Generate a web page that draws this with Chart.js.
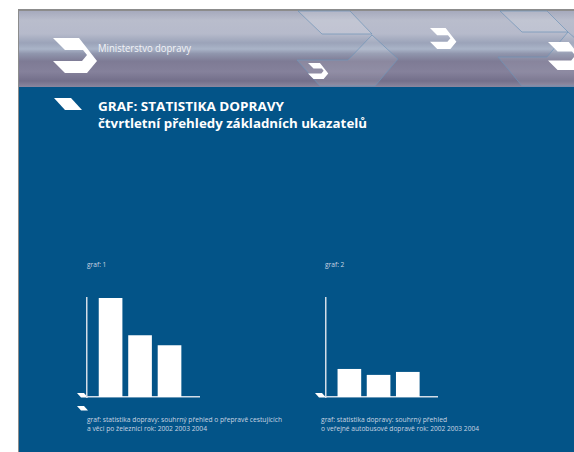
<!DOCTYPE html>
<html lang="cs">
<head>
<meta charset="utf-8">
<script src="https://cdn.jsdelivr.net/npm/chart.js@4.4.1/dist/chart.umd.min.js"></script>
<style>
  html, body { margin: 0; padding: 0; background: #ffffff; }
  #page { position: relative; width: 574px; height: 452px; overflow: hidden; background: #ffffff; }
  #panel {
    position: absolute; left: 18px; top: 9px; width: 556px; height: 443px;
    background: #035488; border-left: 1px solid #8c8c8c; border-top: 2px solid #8c8c8c;
    box-sizing: border-box;
  }
  #header {
    position: absolute; left: 19px; top: 11px; width: 555px; height: 76px;
    background: linear-gradient(to bottom,
      #a6aabd 0%, #b9bdcc 12%, #b6bacb 30%, #9ba3b9 42%, #aab4c8 50%,
      #9096ad 56%, #7e7b95 66%, #85819b 80%, #736f8a 92%, #8a879f 100%);
  }
  svg { position: absolute; left: 0; top: 0; }
  canvas { position: absolute; }
  #c1 { left: 82px; top: 293px; }
  #c2 { left: 321px; top: 293px; }
</style>
</head>
<body>
<div id="page">
  <div id="panel"></div>
  <div id="header"></div>
  <svg width="574" height="452" id="deco">
    <!-- header shapes -->
    <g stroke="#6f93b8" stroke-width="0.7">
      <polygon points="298,11 350,11 372,34 322,34" fill="rgba(255,255,255,0.14)"/>
      <polygon points="297,60 348,60 372,35 398,59 375,86 320,86" fill="rgba(255,255,255,0.10)"/>
      <polygon points="500,11 547,11 568,32 522,32" fill="rgba(255,255,255,0.12)"/>
      <polygon points="498,57 547,57 568,32 596,57 574,86 522,86" fill="rgba(255,255,255,0.08)"/>
    </g>
    <g fill="#ffffff" id="logos"></g>
    <!-- title marker -->
    <polygon points="54,98 71,98 82,110 65,110" fill="#ffffff"/>
    <!-- axis corner markers -->
    <polygon points="77,393 84,393 88,397.5 81,397.5" fill="#ffffff"/>
    <polygon points="77,406 84,406 88,410.5 81,410.5" fill="#ffffff"/>
    <polygon points="315,393 322,393 326,397.5 319,397.5" fill="#ffffff"/>
    <g font-family="'Open Sans', 'DejaVu Sans', sans-serif">
      <text x="98" y="52" font-size="10" fill="#f2f3f7" textLength="93" lengthAdjust="spacingAndGlyphs">Ministerstvo dopravy</text>
      <text x="98" y="111" font-size="12" font-weight="bold" fill="#ffffff" textLength="186" lengthAdjust="spacingAndGlyphs">GRAF: STATISTIKA DOPRAVY</text>
      <text x="98" y="127.5" font-size="12" font-weight="bold" fill="#ffffff" textLength="269" lengthAdjust="spacingAndGlyphs">čtvrtletní přehledy základních ukazatelů</text>
      <g font-size="6.6" fill="#c9d5e2">
        <text x="87" y="267" id="t1"></text>
        <text x="325" y="267" id="t2"></text>
        <text x="87" y="422" textLength="195" lengthAdjust="spacingAndGlyphs" id="cap1a"></text>
        <text x="87" y="431" textLength="120" lengthAdjust="spacingAndGlyphs" id="cap1b"></text>
        <text x="321" y="422" textLength="126" lengthAdjust="spacingAndGlyphs" id="cap2a"></text>
        <text x="321" y="431" textLength="158" lengthAdjust="spacingAndGlyphs" id="cap2b"></text>
      </g>
    </g>
  </svg>
  <canvas id="c1" width="122" height="109"></canvas>
  <canvas id="c2" width="121" height="109"></canvas>
</div>
<script>
  // data
  var roky = [2002, 2003, 2004];
  var zeleznice = [100, 62, 52];   // graf 1, relativni hodnoty
  var autobusy = [28, 22, 25];     // graf 2, relativni hodnoty
  var nadpisy = ['graf: 1', 'graf: 2'];
  var popisky1 = ['graf: statistika dopravy: souhrný přehled o přepravě cestujících', 'a věci po železnici rok: 2002 2003 2004'];
  var popisky2 = ['graf: statistika dopravy: souhrný přehled', 'o veřejné autobusové dopravě rok: 2002 2003 2004'];

  document.getElementById('t1').textContent = nadpisy[0];
  document.getElementById('t2').textContent = nadpisy[1];
  document.getElementById('cap1a').textContent = popisky1[0];
  document.getElementById('cap1b').textContent = popisky1[1];
  document.getElementById('cap2a').textContent = popisky2[0];
  document.getElementById('cap2b').textContent = popisky2[1];

  // logo chevrons in the header
  var logoTvar = [[0,0],[26,0],[44,23],[34,35],[12,35],[0,23],[29,23],[34,17],[30,12],[12,12]];
  var loga = [[53, 38, 1], [430, 28, 0.6], [308, 63, 0.46], [548, 42, 0.8]];
  var g = document.getElementById('logos');
  loga.forEach(function (l) {
    var p = document.createElementNS('http://www.w3.org/2000/svg', 'polygon');
    p.setAttribute('points', logoTvar.map(function (b) {
      return (l[0] + b[0] * l[2]) + ',' + (l[1] + b[1] * l[2]);
    }).join(' '));
    g.appendChild(p);
  });

  function makeChart(id, values) {
    var axisBorder = { display: true, color: '#d3dde8', width: 1.5 };
    return new Chart(document.getElementById(id), {
      type: 'bar',
      data: {
        datasets: [{
          data: roky.map(function (r, i) { return { x: r, y: values[i] }; }),
          backgroundColor: '#ffffff',
          borderWidth: 0,
          barThickness: 23
        }]
      },
      options: {
        responsive: false,
        animation: false,
        layout: { padding: 5 },
        plugins: { legend: { display: false }, tooltip: { enabled: false } },
        scales: {
          x: {
            type: 'linear', min: 2001.2, max: 2005, offset: false,
            grid: { display: false, drawTicks: false, offset: false },
            ticks: { display: false },
            border: axisBorder
          },
          y: {
            min: 0, max: 100,
            grid: { display: false, drawTicks: false },
            ticks: { display: false },
            border: axisBorder
          }
        }
      }
    });
  }

  makeChart('c1', zeleznice);
  makeChart('c2', autobusy);
</script>
</body>
</html>
